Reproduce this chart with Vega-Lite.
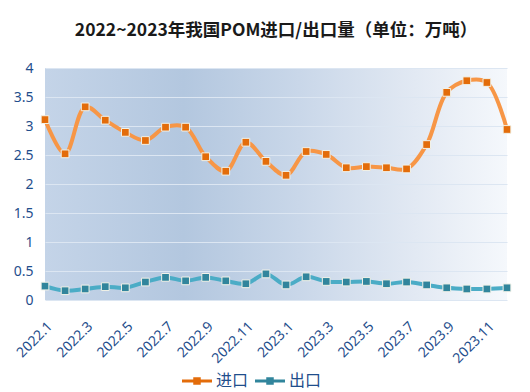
{
  "$schema": "https://vega.github.io/schema/vega-lite/v6.json",
  "width": 462,
  "height": 232,
  "autosize": "none",
  "padding": {"left": 45, "top": 68, "right": 23, "bottom": 92},
  "background": "white",
  "title": {
    "text": "2022~2023年我国POM进口/出口量（单位：万吨）",
    "font": "Noto Sans CJK SC",
    "fontSize": 17.5,
    "fontWeight": "bold",
    "color": "#1a1a1a",
    "anchor": "middle",
    "offset": 22
  },
  "config": {
    "view": {
      "stroke": null,
      "fill": {
        "gradient": "linear",
        "x1": 0, "y1": 0, "x2": 1, "y2": 0,
        "stops": [
          {"offset": 0, "color": "#c4d4e8"},
          {"offset": 0.3, "color": "#b3c7df"},
          {"offset": 0.55, "color": "#c9d7e9"},
          {"offset": 0.8, "color": "#e2e9f3"},
          {"offset": 1, "color": "#f5f8fc"}
        ]
      }
    },
    "axis": {
      "labelFont": "Noto Sans",
      "labelColor": "#1f4e8c",
      "domain": false,
      "ticks": false,
      "title": null
    }
  },
  "data": {
    "values": [
      {"month": "2022.1", "type": "进口", "value": 3.11},
      {"month": "2022.2", "type": "进口", "value": 2.52},
      {"month": "2022.3", "type": "进口", "value": 3.33},
      {"month": "2022.4", "type": "进口", "value": 3.10},
      {"month": "2022.5", "type": "进口", "value": 2.89},
      {"month": "2022.6", "type": "进口", "value": 2.75},
      {"month": "2022.7", "type": "进口", "value": 2.98},
      {"month": "2022.8", "type": "进口", "value": 2.98},
      {"month": "2022.9", "type": "进口", "value": 2.47},
      {"month": "2022.10", "type": "进口", "value": 2.22},
      {"month": "2022.11", "type": "进口", "value": 2.72},
      {"month": "2022.12", "type": "进口", "value": 2.39},
      {"month": "2023.1", "type": "进口", "value": 2.15},
      {"month": "2023.2", "type": "进口", "value": 2.56},
      {"month": "2023.3", "type": "进口", "value": 2.51},
      {"month": "2023.4", "type": "进口", "value": 2.28},
      {"month": "2023.5", "type": "进口", "value": 2.30},
      {"month": "2023.6", "type": "进口", "value": 2.28},
      {"month": "2023.7", "type": "进口", "value": 2.26},
      {"month": "2023.8", "type": "进口", "value": 2.68},
      {"month": "2023.9", "type": "进口", "value": 3.58},
      {"month": "2023.10", "type": "进口", "value": 3.78},
      {"month": "2023.11", "type": "进口", "value": 3.75},
      {"month": "2023.12", "type": "进口", "value": 2.94},
      {"month": "2022.1", "type": "出口", "value": 0.24},
      {"month": "2022.2", "type": "出口", "value": 0.16},
      {"month": "2022.3", "type": "出口", "value": 0.19},
      {"month": "2022.4", "type": "出口", "value": 0.23},
      {"month": "2022.5", "type": "出口", "value": 0.21},
      {"month": "2022.6", "type": "出口", "value": 0.31},
      {"month": "2022.7", "type": "出口", "value": 0.39},
      {"month": "2022.8", "type": "出口", "value": 0.33},
      {"month": "2022.9", "type": "出口", "value": 0.39},
      {"month": "2022.10", "type": "出口", "value": 0.33},
      {"month": "2022.11", "type": "出口", "value": 0.28},
      {"month": "2022.12", "type": "出口", "value": 0.45},
      {"month": "2023.1", "type": "出口", "value": 0.26},
      {"month": "2023.2", "type": "出口", "value": 0.40},
      {"month": "2023.3", "type": "出口", "value": 0.32},
      {"month": "2023.4", "type": "出口", "value": 0.31},
      {"month": "2023.5", "type": "出口", "value": 0.32},
      {"month": "2023.6", "type": "出口", "value": 0.28},
      {"month": "2023.7", "type": "出口", "value": 0.31},
      {"month": "2023.8", "type": "出口", "value": 0.26},
      {"month": "2023.9", "type": "出口", "value": 0.21},
      {"month": "2023.10", "type": "出口", "value": 0.19},
      {"month": "2023.11", "type": "出口", "value": 0.19},
      {"month": "2023.12", "type": "出口", "value": 0.21}
    ]
  },
  "encoding": {
    "x": {
      "field": "month",
      "type": "ordinal",
      "sort": null,
      "scale": {"type": "point", "padding": 0},
      "axis": {
        "values": ["2022.1", "2022.3", "2022.5", "2022.7", "2022.9", "2022.11", "2023.1", "2023.3", "2023.5", "2023.7", "2023.9", "2023.11"],
        "labelAngle": -45,
        "labelAlign": "right",
        "labelBaseline": "top",
        "labelFontSize": 14,
        "labelPadding": 19,
        "grid": false
      }
    },
    "y": {
      "field": "value",
      "type": "quantitative",
      "scale": {"domain": [0, 4]},
      "axis": {
        "values": [0, 0.5, 1, 1.5, 2, 2.5, 3, 3.5, 4],
        "format": "~g",
        "labelFontSize": 14,
        "labelPadding": 12,
        "grid": true,
        "gridColor": "#dce6f2",
        "gridWidth": 1.2,
        "gridOpacity": 1
      }
    }
  },
  "layer": [
    {
      "mark": {"type": "line", "interpolate": "catmull-rom", "strokeWidth": 4},
      "encoding": {
        "color": {
          "field": "type",
          "type": "nominal",
          "scale": {"domain": ["进口", "出口"], "range": ["#f79646", "#4bacc6"]},
          "legend": {
            "title": null,
            "orient": "none",
            "legendX": 137,
            "legendY": 298,
            "direction": "horizontal",
            "symbolType": "M-1,-0.1H1V0.1H-1Z M-0.25,-0.25H0.25V0.25H-0.25Z",
            "symbolSize": 900,
            "symbolStrokeWidth": 0,
            "labelFont": "Noto Sans CJK SC",
            "labelFontSize": 16,
            "labelColor": "#1f4e8c",
            "columnPadding": 6,
            "labelOffset": 4
          }
        }
      }
    },
    {
      "mark": {"type": "point", "shape": "square", "filled": true, "size": 60, "stroke": "#f2f2e8", "strokeWidth": 1, "opacity": 1},
      "encoding": {
        "fill": {
          "field": "type",
          "type": "nominal",
          "scale": {"domain": ["进口", "出口"], "range": ["#e36c0a", "#31859c"]},
          "legend": null
        }
      }
    }
  ]
}
